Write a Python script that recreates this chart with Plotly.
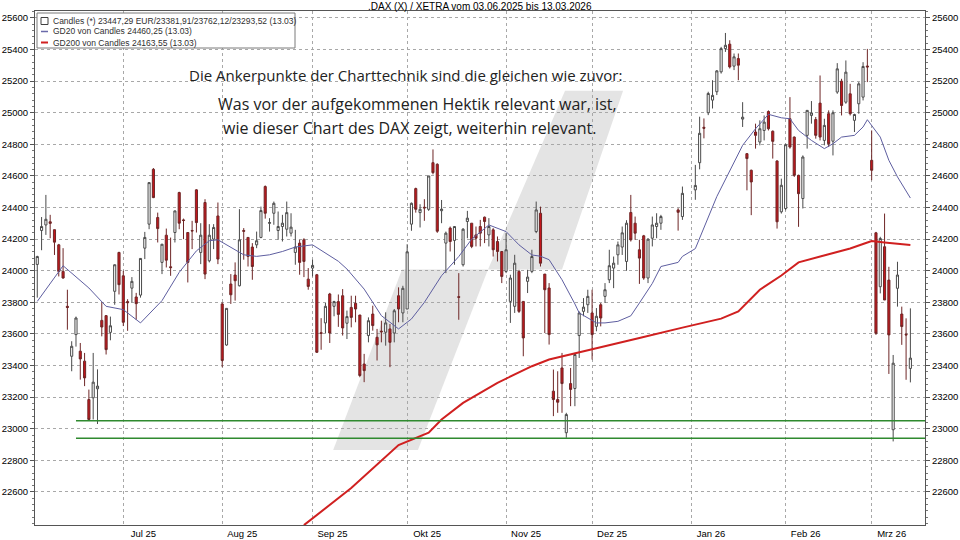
import numpy as np
import pandas as pd
import plotly.graph_objects as go

# ---------------- data ----------------
start_date = "2025-06-03"
end_date = "2026-03-13"
holidays = ["2025-12-24", "2025-12-25", "2025-12-26", "2025-12-31", "2026-01-01"]

opens = [
    24040, 24255, 24290, 24310, 24260, 24164, 23996, 23775, 23459, 23596,
    23491, 23428, 23185, 23196, 23253, 23686, 23716, 23610, 23870, 24116,
    23968, 23805, 23890, 23834, 23846, 24143, 24295, 24642, 24337, 24053,
    24225, 24025, 24242, 24495, 24322, 24242, 24255, 24512, 24116, 24432,
    24063, 24200, 24347, 23790, 23530, 23916, 23973, 23905, 24255, 24211,
    24150, 24164, 24211, 24533, 24300, 24364, 24255, 24280, 24263, 24238,
    24116, 24175, 24196, 23947, 24017, 23975, 23608, 23670, 23853, 23775,
    23805, 23842, 23668, 23768, 23794, 23720, 23410, 23590, 23726, 23579,
    23618, 23611, 23632, 23606, 23842, 23733, 23758, 24295, 24520, 24368,
    24402, 24389, 24684, 24674, 24380, 24175, 24270, 24192, 23836, 24038,
    24312, 24301, 24227, 24280, 24339, 24227, 24259, 24185, 24122, 23996,
    23806, 23775, 23996, 23806, 23933, 23996, 24248, 24364, 23979, 23891,
    23238, 23185, 23385, 22975, 23286, 23255, 23590, 23743, 23785, 23733,
    23648, 23785, 23838, 23943, 24017, 24101, 24150, 24059, 24369, 24301,
    24133, 24221, 23954, 24206, 24280, 24301,
    24385, 24343,
    24512, 24684, 24908, 25000, 25080, 25133, 25259,
    25406, 25434, 25295, 25343, 24960, 24741, 24636, 24878, 24815, 24888,
    25008, 24883, 24695, 24373, 24394, 24962, 24846, 24604, 24457, 24857,
    24983, 24957, 25061, 24825, 24994, 24820, 25131, 25200, 25067, 25120,
    24952, 25057, 25099, 25296, 24699, 24240, 23899, 24152, 23941, 22994,
    23889, 23726, 23598, 23381.91,
]
highs = [
    24095, 24340, 24480, 24354, 24260, 24170, 24143, 23880, 23554, 23710,
    23543, 23480, 23248, 23480, 23376, 23800, 23720, 23710, 24040, 24120,
    24000, 23820, 23960, 23860, 24080, 24246, 24560, 24650, 24368, 24170,
    24267, 24210, 24380, 24500, 24330, 24242, 24316, 24516, 24301, 24453,
    24295, 24295, 24432, 23800, 23762, 23979, 24053, 24390, 24270, 24211,
    24175, 24248, 24406, 24540, 24333, 24438, 24375, 24354, 24438, 24364,
    24259, 24196, 24206, 24017, 24070, 23980, 23700, 23796, 23860, 23810,
    23850, 23884, 23748, 23842, 23842, 23720, 23474, 23705, 23779, 23632,
    23684, 23737, 23663, 23758, 23895, 23905, 24168, 24432, 24526, 24421,
    24453, 24600, 24768, 24680, 24448, 24248, 24280, 24280, 23985, 24270,
    24379, 24301, 24280, 24322, 24343, 24333, 24270, 24217, 24122, 24238,
    23975, 24101, 24006, 23806, 24006, 24133, 24438, 24406, 23979, 23922,
    23375, 23364, 23480, 23101, 23385, 23480, 23743, 23827, 23880, 23880,
    23764, 23796, 23922, 24133, 24090, 24185, 24280, 24320, 24480, 24343,
    24196, 24227, 24206, 24343, 24364, 24354,
    24396, 24533,
    24670, 24975, 24964, 25133, 25206, 25270, 25417,
    25505, 25459, 25375, 25375, 25067, 24745, 24640, 24931, 24952, 24983,
    25015, 24888, 24699, 24583, 24804, 25099, 24850, 24608, 24730, 25015,
    25074, 24973, 25236, 24962, 25015, 25015, 25314, 25215, 25331, 25183,
    24994, 25194, 25320, 25404, 24888, 24246, 24215, 24362, 24025, 23467,
    24057, 23773, 23699, 23762.12,
]
lows = [
    23830, 24130, 24227, 24206, 24100, 23964, 23950, 23627, 23364, 23520,
    23311, 23270, 23050, 23059, 23030, 23585, 23470, 23560, 23785, 23850,
    23650, 23620, 23800, 23690, 23830, 24074, 24263, 24460, 24179, 23979,
    24021, 23968, 24179, 24263, 24200, 23926, 24137, 24242, 24042, 23947,
    24053, 24137, 24042, 23390, 23526, 23790, 23811, 23901, 24070, 24027,
    23943, 24143, 24206, 24330, 24248, 24291, 24196, 24185, 24217, 24217,
    24038, 23975, 23960, 23880, 23964, 23480, 23500, 23606, 23543, 23712,
    23645, 23590, 23568, 23642, 23674, 23326, 23295, 23547, 23621, 23432,
    23547, 23526, 23390, 23547, 23674, 23674, 23758, 24253, 24368, 24274,
    24316, 24379, 24610, 24240, 24301, 23985, 24122, 24038, 23690, 24027,
    24206, 24143, 24154, 24154, 24175, 24154, 24090, 24059, 23922, 23985,
    23670, 23733, 23733, 23459, 23859, 23985, 24238, 24027, 23606, 23533,
    23080, 23101, 23101, 22943, 23143, 23143, 23448, 23712, 23733, 23438,
    23617, 23648, 23796, 23922, 23890, 24038, 24100, 24000, 24185, 24196,
    23917, 23943, 23922, 24154, 24206, 24259,
    24254, 24322,
    24449, 24642, 24838, 24985, 25027, 25112, 25248,
    25385, 25280, 25270, 25206, 24910, 24509, 24352, 24773, 24794, 24825,
    24888, 24710, 24267, 24362, 24383, 24773, 24594, 24278, 24394, 24773,
    24931, 24836, 24825, 24794, 24783, 24730, 25120, 24983, 25057, 24983,
    24878, 24994, 25078, 25194, 24573, 23594, 23857, 23815, 23347, 22920,
    23773, 23531, 23310, 23293.52,
]
closes = [
    24090, 24280, 24326, 24300, 24181, 23996, 23954, 23768, 23522, 23701,
    23442, 23322, 23059, 23295, 23270, 23644, 23501, 23652, 24038, 23912,
    23674, 23798, 23933, 23792, 24078, 24211, 24558, 24463, 24267, 24168,
    24067, 24020, 24379, 24301, 24318, 24053, 24252, 24305, 24225, 23979,
    24225, 24274, 24074, 23432, 23762, 23848, 23937, 24196, 24250, 24091,
    24027, 24190, 24381, 24364, 24305, 24427, 24280, 24301, 24368, 24276,
    24150, 24053, 24059, 23901, 24034, 23484, 23604, 23775, 23606, 23805,
    23724, 23638, 23710, 23705, 23758, 23337, 23368, 23684, 23653, 23531,
    23614, 23670, 23547, 23747, 23758, 23889, 24120, 24427, 24389, 24389,
    24398, 24600, 24621, 24250, 24390, 24238, 24185, 24280, 23832, 24263,
    24333, 24154, 24206, 24238, 24312, 24280, 24133, 24122, 23964, 24133,
    23954, 24048, 23743, 23575, 23960, 24090, 24385, 24048, 23880, 23596,
    23185, 23168, 23286, 23090, 23249, 23470, 23733, 23770, 23838, 23596,
    23712, 23701, 23880, 24032, 24048, 24164, 24240, 24301, 24196, 24238,
    24080, 23954, 24200, 24290, 24301, 24343,
    24370, 24490,
    24540, 24870, 24902, 25122, 25110, 25265, 25406,
    25427, 25290, 25354, 25301, 24972, 24710, 24562, 24857, 24899, 24941,
    24899, 24819, 24310, 24541, 24798, 24783, 24604, 24488, 24720, 25015,
    24999, 24857, 24846, 24920, 24804, 25000, 25278, 25046, 25257, 24994,
    24989, 25183, 25293, 25290, 24636, 23604, 24204, 23815, 23594, 23415,
    23973, 23647, 23594, 23447.29,
]

# moving averages (trading-day offset from 03.06.2025, value)
gd20_day = [0, 6, 12, 16, 20, 24, 29, 33, 37, 40, 42, 45, 48, 51, 54, 57, 60, 64,
            67, 70, 72, 76, 80, 84, 87, 90, 94, 98, 101, 105, 109, 112, 115, 117,
            119, 122, 125, 126, 130, 132, 135, 138, 140, 143, 145, 149, 150, 153,
            158, 161, 164, 167, 170, 173, 175, 177, 180, 183, 185, 187, 190, 192,
            193, 196, 198, 200, 203]
gd20_val = [23806, 24032, 23891, 23775, 23754, 23670, 23811, 23990, 24126, 24190,
            24196, 24150, 24101, 24091, 24101, 24122, 24150, 24164, 24112, 24060,
            24011, 23884, 23716, 23632, 23695, 23800, 23969, 24090, 24200, 24290,
            24248, 24164, 24100, 24092, 24070, 23943, 23790, 23733, 23670, 23670,
            23680, 23715, 23796, 23920, 24027, 24053, 24091, 24140, 24470, 24636,
            24794, 24899, 24990, 24968, 24962, 24888, 24825, 24773, 24804, 24846,
            24857, 24910, 24956, 24846, 24699, 24594, 24460.25]

gd200_day = [62, 73, 84, 91, 94, 99, 107, 115, 119, 125, 130, 135, 140, 150, 159,
             163, 168, 173, 177, 184, 189, 193, 194, 197, 203]
gd200_val = [22390, 22625, 22897, 22975, 23059, 23164, 23291, 23396, 23438, 23476,
             23512, 23543, 23575, 23640, 23697, 23743, 23880, 23970, 24053, 24105,
             24141, 24179, 24188, 24179, 24163.55]

support_levels = [23050, 22940]
support_start_day = 9

y_ticks = list(range(22600, 25601, 200))
month_starts = ["2025-07-01", "2025-08-01", "2025-09-01", "2025-10-01", "2025-11-03",
                "2025-12-01", "2026-01-01", "2026-02-02", "2026-03-02"]
month_labels = ["Jul 25", "Aug 25", "Sep 25", "Okt 25", "Nov 25", "Dez 25",
                "Jan 26", "Feb 26", "Mrz 26"]

title_text = ".DAX (X) / XETRA vom 03.06.2025 bis 13.03.2026"
note_line1 = "Die Ankerpunkte der Charttechnik sind die gleichen wie zuvor:"
note_line2 = "Was vor der aufgekommenen Hektik relevant war, ist,"
note_line3 = "wie dieser Chart des DAX zeigt, weiterhin relevant."

# ---------------- positions ----------------
weekdays = pd.bdate_range(start_date, end_date)
trading_days = weekdays[~weekdays.isin(pd.to_datetime(holidays))]
x_days = np.busday_count(np.datetime64(start_date),
                         trading_days.values.astype("datetime64[D]"))
month_x = [int(np.busday_count(np.datetime64(start_date), np.datetime64(m))) for m in month_starts]

W, H = 960, 540
L, R, T, B = 35, 925, 11, 525


def px(x):
    return (x - L) / (R - L)


def py(y):
    return (B - y) / (B - T)


def de(v):
    return f"{v:,.2f}".replace(",", "X").replace(".", ",").replace("X", "")


fig = go.Figure()

fig.add_trace(go.Candlestick(
    x=x_days, open=opens, high=highs, low=lows, close=closes,
    increasing=dict(fillcolor="white", line=dict(color="#4a4a4a", width=1)),
    decreasing=dict(fillcolor="#c4161c", line=dict(color="#6e2626", width=1)),
    whiskerwidth=0, showlegend=False, hoverinfo="skip",
))
fig.add_trace(go.Scatter(x=gd20_day, y=gd20_val, mode="lines",
                         line=dict(color="#5e5ea0", width=1), showlegend=False,
                         hoverinfo="skip"))
fig.add_trace(go.Scatter(x=gd200_day, y=gd200_val, mode="lines",
                         line=dict(color="#d02020", width=2), showlegend=False,
                         hoverinfo="skip"))
for lvl in support_levels:
    fig.add_trace(go.Scatter(x=[support_start_day, 215], y=[lvl, lvl], mode="lines",
                             yaxis="y2",
                             line=dict(color="#2f8a2f", width=1.5), showlegend=False,
                             hoverinfo="skip"))

yr = [22391, 25644]
axis_font = dict(family="Liberation Sans, Arial", size=9.5, color="#000")
minor_ticks = dict(dtick=40, tick0=22600, ticks="outside", ticklen=2,
                   tickcolor="#777", showgrid=False)

fig.update_layout(
    width=W, height=H,
    margin=dict(l=L, r=W - R, t=T, b=H - B),
    paper_bgcolor="white", plot_bgcolor="white",
    boxgap=0.3,
    showlegend=False,
    xaxis=dict(range=[-0.53, 206.4], tickvals=month_x, ticktext=month_labels,
               showgrid=True, gridcolor="#a8a8a8", griddash="dot", gridwidth=1,
               showline=True, linecolor="#555", mirror=True, zeroline=False,
               ticks="", ticklabelshift=20, tickfont=axis_font, automargin=False,
               rangeslider=dict(visible=False), fixedrange=True),
    yaxis=dict(range=yr, tickmode="array", tickvals=y_ticks, tickformat="d",
               automargin=False,
               showgrid=True, gridcolor="#a8a8a8", griddash="dot", gridwidth=1,
               showline=True, linecolor="#555", mirror=True, zeroline=False,
               ticks="outside", ticklen=4, tickcolor="#555", tickfont=axis_font,
               minor=minor_ticks),
    yaxis2=dict(range=yr, matches="y", overlaying="y", side="right",
                tickmode="array", tickvals=y_ticks, tickformat="d",
                showgrid=False, zeroline=False, automargin=False,
                ticks="outside", ticklen=4, tickcolor="#555", tickfont=axis_font,
                minor=minor_ticks),
)

shapes = []
# light grey slash in the background (two offset bars)
shapes.append(dict(type="path", xref="x", yref="y", layer="below",
                   path="M 122.7 25139 L 136.2 25139 L 122.0 24008 L 104.8 24008 Z",
                   fillcolor="#e4e4e4", line=dict(width=0)))
shapes.append(dict(type="path", xref="x", yref="y", layer="below",
                   path="M 84.8 24008 L 104.8 24008 L 88.5 22865 L 68.8 22865 Z",
                   fillcolor="#e4e4e4", line=dict(width=0)))
# legend box
shapes.append(dict(type="rect", xref="paper", yref="paper",
                   x0=px(37), x1=px(295), y0=py(48), y1=py(13),
                   fillcolor="white", line=dict(color="#7a7a7a", width=1), layer="above"))
shapes.append(dict(type="rect", xref="paper", yref="paper",
                   x0=px(41), x1=px(48), y0=py(24.5), y1=py(17.5),
                   fillcolor="white", line=dict(color="#404040", width=1), layer="above"))
shapes.append(dict(type="line", xref="paper", yref="paper",
                   x0=px(41), x1=px(48), y0=py(31.5), y1=py(31.5),
                   line=dict(color="#6a6aaa", width=1.5), layer="above"))
shapes.append(dict(type="line", xref="paper", yref="paper",
                   x0=px(41), x1=px(48), y0=py(42.5), y1=py(42.5),
                   line=dict(color="#d02020", width=2), layer="above"))
fig.update_layout(shapes=shapes)

legend_font = dict(family="Liberation Sans, Arial", size=8.5, color="#303030")
legend_rows = [
    f"Candles (*) {de(closes[-1])} EUR/{de(opens[-1])}/{de(highs[-1])}/{de(lows[-1])} (13.03)",
    f"GD20 von Candles {de(gd20_val[-1])} (13.03)",
    f"GD200 von Candles {de(gd200_val[-1])} (13.03)",
]
anns = []
for row, yy in zip(legend_rows, [21, 31.5, 42.5]):
    anns.append(dict(text=row, x=px(51), y=py(yy), xref="paper", yref="paper",
                     xanchor="left", yanchor="middle", showarrow=False, font=legend_font))
anns.append(dict(text=title_text, x=px(480), y=py(6), xref="paper", yref="paper",
                 xanchor="center", yanchor="middle", showarrow=False,
                 font=dict(family="Liberation Sans, Arial", size=10, color="#000")))
anns.append(dict(text=note_line1, x=px(405), y=py(75), xref="paper", yref="paper",
                 xanchor="center", yanchor="middle", showarrow=False,
                 font=dict(family="Open Sans", size=15, color="#222")))
anns.append(dict(text=note_line2, x=px(417), y=py(104), xref="paper", yref="paper",
                 xanchor="center", yanchor="middle", showarrow=False,
                 font=dict(family="Open Sans", size=16, color="#222")))
anns.append(dict(text=note_line3, x=px(409), y=py(128), xref="paper", yref="paper",
                 xanchor="center", yanchor="middle", showarrow=False,
                 font=dict(family="Open Sans", size=16, color="#222")))
fig.update_layout(annotations=anns)

fig.write_html("out.html", config={"displayModeBar": False},
               post_script="document.body.style.margin='0';document.body.style.overflow='hidden';")
